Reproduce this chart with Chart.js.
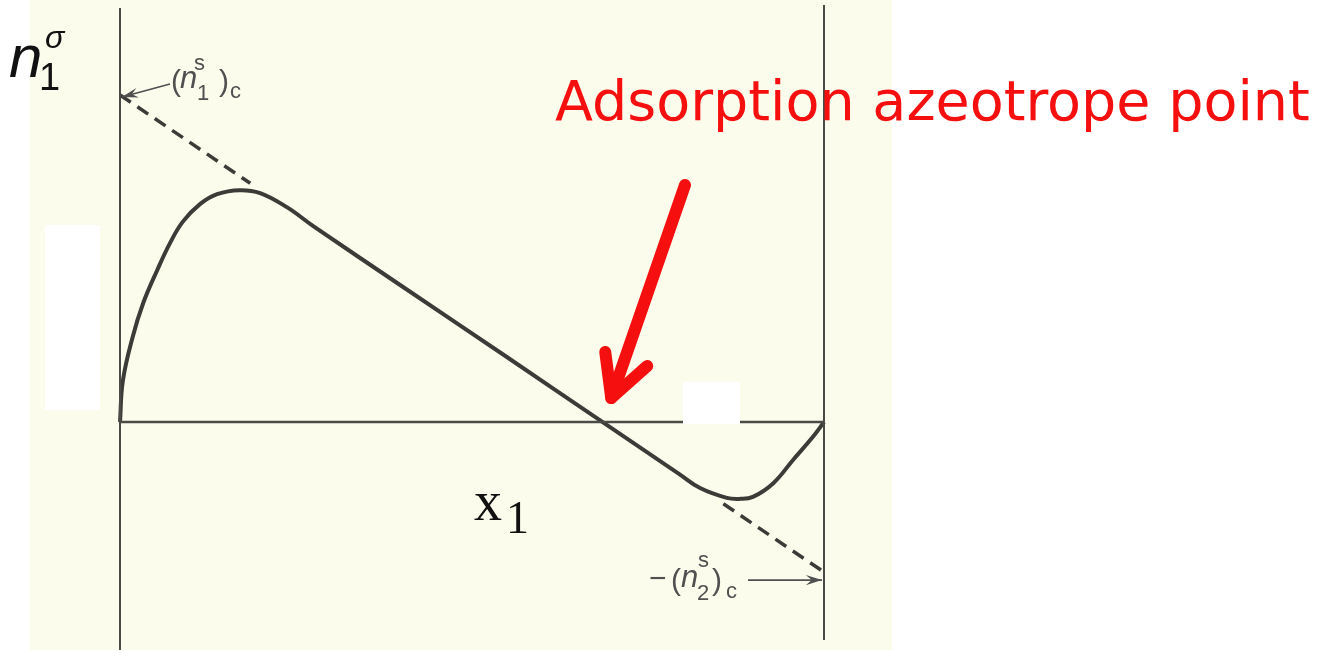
<!DOCTYPE html>
<html>
<head>
<meta charset="utf-8">
<title>Adsorption azeotrope</title>
<script src="https://cdn.jsdelivr.net/npm/chart.js@4.4.1/dist/chart.umd.min.js"></script>
<style>
  html, body { margin: 0; padding: 0; background: #ffffff; }
  #wrap { width: 1332px; height: 650px; position: relative; }
</style>
</head>
<body>
<div id="wrap"><canvas id="c" width="1332" height="650"></canvas></div>
<script>
// surface excess n1^sigma against mole fraction x1 (units: (n1s)c = 1)
const curveX = [0, 0.004, 0.018, 0.033, 0.053, 0.071, 0.089, 0.114, 0.138, 0.170, 0.199, 0.237, 0.274,
                0.40, 0.55, 0.682, 0.795, 0.824, 0.862, 0.881, 0.899, 0.928, 0.956, 0.984, 1];
const curveY = [0, 0.125, 0.260, 0.364, 0.465, 0.547, 0.612, 0.667, 0.697, 0.709, 0.700, 0.657, 0.600,
                0.416, 0.198, 0.005, -0.160, -0.202, -0.232, -0.235, -0.229, -0.187, -0.116, -0.046, 0];

// dashed extrapolation of the linear part to both ends
const dashTopX = [0, 0.185];
const dashTopY = [1, 0.730];
const dashBottomX = [0.857, 1];
const dashBottomY = [-0.250, -0.459];

// frame: two verticals and the x1 axis
const leftFrameY = [1.266, -0.697];
const rightFrameY = [1.275, -0.667];
const axisX = [0, 1];

const azeotropeX = 0.685;

const yMin = -0.6972, yMax = 1.2905;

const pts = (xs, ys) => xs.map((x, i) => ({ x: x, y: ys[i] }));

const INK = '#3b3b38';
const CREAM = '#fcfced';

const backdrop = {
  id: 'backdrop',
  beforeDraw(chart) {
    const ctx = chart.ctx;
    ctx.save();
    ctx.fillStyle = '#ffffff';
    ctx.fillRect(0, 0, chart.width, chart.height);
    ctx.fillStyle = CREAM;
    ctx.fillRect(30, 0, 862, chart.height);
    ctx.fillStyle = '#ffffff';
    ctx.fillRect(45, 225, 55, 185);
    ctx.restore();
  }
};

function arrow(ctx, x1, y1, x2, y2, head) {
  ctx.beginPath();
  ctx.moveTo(x1, y1);
  ctx.lineTo(x2, y2);
  ctx.stroke();
  const a = Math.atan2(y2 - y1, x2 - x1);
  ctx.beginPath();
  ctx.moveTo(x2, y2);
  ctx.lineTo(x2 - head * Math.cos(a - 0.3), y2 - head * Math.sin(a - 0.3));
  ctx.lineTo(x2 - head * 0.6 * Math.cos(a), y2 - head * 0.6 * Math.sin(a));
  ctx.lineTo(x2 - head * Math.cos(a + 0.3), y2 - head * Math.sin(a + 0.3));
  ctx.closePath();
  ctx.fill();
}

function txt(ctx, font, s, x, y) {
  ctx.font = font;
  ctx.fillText(s, x, y);
}

const labels = {
  id: 'labels',
  afterDatasetsDraw(chart) {
    const ctx = chart.ctx;
    const xs = chart.scales.x, ys = chart.scales.y;
    ctx.save();

    // patch over the axis line near x1 ~ 0.85
    ctx.fillStyle = '#ffffff';
    ctx.fillRect(683, ys.getPixelForValue(0) - 40, 57, 42);

    // y axis label n1^sigma
    const sans = '"Liberation Sans", Arial, sans-serif';
    ctx.fillStyle = '#111111';
    ctx.textBaseline = 'alphabetic';
    txt(ctx, 'italic 60px ' + sans, 'n', 9, 77);
    txt(ctx, '38px ' + sans, '1', 39, 90);
    txt(ctx, 'italic 32px ' + sans, 'σ', 45, 48);

    // x axis label x1
    const serif = '"Liberation Serif", "Times New Roman", serif';
    txt(ctx, '56px ' + serif, 'x', 474, 520);
    txt(ctx, '46px ' + serif, '1', 506, 533);

    // (n1s)c with pointer to the intercept
    const gray = '#505050';
    ctx.fillStyle = gray;
    ctx.strokeStyle = gray;
    ctx.lineWidth = 1.6;
    const topY = ys.getPixelForValue(dashTopY[0]);
    const x0 = xs.getPixelForValue(0);
    arrow(ctx, 170, 84, x0 + 2, topY + 2, 17);
    txt(ctx, '30px ' + sans, '(', 171, 91);
    txt(ctx, 'italic 31px ' + sans, 'n', 180, 88);
    txt(ctx, '22px ' + sans, 's', 194, 70);
    txt(ctx, '22px ' + sans, '1', 197, 100);
    txt(ctx, '30px ' + sans, ')', 219, 91);
    txt(ctx, '22px ' + sans, 'c', 230, 98);

    // -(n2s)c with pointer to the lower intercept
    const botY = ys.getPixelForValue(dashBottomY[1]);
    const x1 = xs.getPixelForValue(1);
    txt(ctx, '30px ' + sans, '−', 649, 588);
    txt(ctx, '30px ' + sans, '(', 671, 590);
    txt(ctx, 'italic 31px ' + sans, 'n', 681, 587);
    txt(ctx, '22px ' + sans, 's', 698, 567);
    txt(ctx, '22px ' + sans, '2', 697, 600);
    txt(ctx, '30px ' + sans, ')', 712, 590);
    txt(ctx, '22px ' + sans, 'c', 726, 598);
    arrow(ctx, 748, botY + 8, x1 - 2, botY + 8, 17);

    // red caption and arrow to the azeotrope point
    const red = '#f50f0f';
    ctx.fillStyle = red;
    const caption = 'Adsorption azeotrope point';
    let size = 52;
    ctx.font = size + 'px "DejaVu Sans", sans-serif';
    size = size * 755 / ctx.measureText(caption).width;
    ctx.font = size + 'px "DejaVu Sans", sans-serif';
    ctx.fillText(caption, 555, 120);

    const tipX = xs.getPixelForValue(azeotropeX) + 9;
    const tipY = ys.getPixelForValue(0) - 24;
    ctx.strokeStyle = red;
    ctx.lineWidth = 12;
    ctx.lineCap = 'round';
    ctx.lineJoin = 'round';
    ctx.beginPath();
    ctx.moveTo(685, 185);
    ctx.lineTo(tipX, tipY);
    ctx.stroke();
    ctx.beginPath();
    ctx.moveTo(tipX - 6, tipY - 46);
    ctx.lineTo(tipX, tipY);
    ctx.lineTo(tipX + 36, tipY - 32);
    ctx.stroke();

    ctx.restore();
  }
};

const frameStyle = { borderColor: '#4a4a46', borderWidth: 2, pointRadius: 0, showLine: true, clip: false };

new Chart(document.getElementById('c'), {
  type: 'scatter',
  data: {
    datasets: [
      Object.assign({ data: pts([0, 0], leftFrameY) }, frameStyle),
      Object.assign({ data: pts([1, 1], rightFrameY) }, frameStyle),
      Object.assign({ data: pts(axisX, [0, 0]) }, frameStyle, { borderWidth: 2.5 }),
      {
        data: pts(dashTopX, dashTopY),
        borderColor: INK, borderWidth: 3.5, borderDash: [13, 8],
        pointRadius: 0, showLine: true, clip: false
      },
      {
        data: pts(dashBottomX, dashBottomY),
        borderColor: INK, borderWidth: 3.5, borderDash: [13, 8],
        pointRadius: 0, showLine: true, clip: false
      },
      {
        data: pts(curveX, curveY),
        borderColor: INK, borderWidth: 4,
        pointRadius: 0, showLine: true, clip: false,
        tension: 0.4
      }
    ]
  },
  options: {
    responsive: false,
    animation: false,
    devicePixelRatio: 1,
    layout: { padding: { left: 120, right: 508, top: 0, bottom: 0 } },
    plugins: { legend: { display: false }, tooltip: { enabled: false } },
    scales: {
      x: { type: 'linear', min: 0, max: 1, display: false },
      y: { type: 'linear', min: yMin, max: yMax, display: false }
    }
  },
  plugins: [backdrop, labels]
});
</script>
</body>
</html>
